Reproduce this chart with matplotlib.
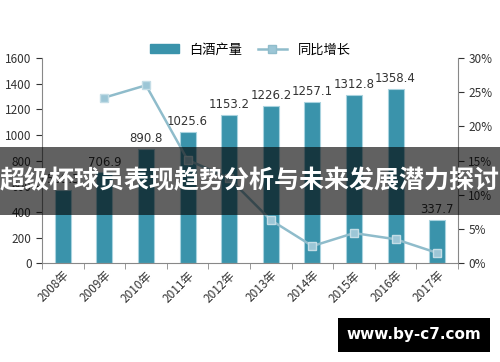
import matplotlib.pyplot as plt
import numpy as np
from matplotlib.patches import Rectangle

plt.rcParams['font.family'] = ['Noto Sans CJK SC', 'DejaVu Sans']

years = ["2008年", "2009年", "2010年", "2011年", "2012年",
         "2013年", "2014年", "2015年", "2016年", "2017年"]
output = [569.3, 706.9, 890.8, 1025.6, 1153.2, 1226.2, 1257.1, 1312.8, 1358.4, 337.7]
growth_years = [1, 2, 3, 4, 5, 6, 7, 8, 9]
growth = [24.2, 26.0, 15.1, 12.4, 6.3, 2.5, 4.4, 3.5, 1.5]

title = "超级杯球员表现趋势分析与未来发展潜力探讨"
site = "www.by-c7.com"

fig = plt.figure(figsize=(5, 3.62), dpi=100)
ax = fig.add_axes([0.084, 0.273, 0.832, 0.567])
x = np.arange(len(years))

bars = ax.bar(x, output, width=0.38, color="#3a93ab", edgecolor="#a9d3df",
              linewidth=0.8, zorder=2)
for xi, v in zip(x, output):
    ax.text(xi, v + 30, f"{v:.1f}", ha="center", va="bottom", fontsize=8.5,
            color="#333333", family="DejaVu Sans")

ax.set_xlim(-0.5, len(years) - 0.5)
ax.set_ylim(0, 1600)
ax.set_yticks(range(0, 1601, 200))
ax.set_xticks(x)
ax.set_xticklabels(years, rotation=45, ha="right", rotation_mode="anchor",
                   fontsize=8.5, color="#333333")
ax.set_xticks(np.arange(-0.5, len(years), 1), minor=True)
ax.tick_params(axis="x", which="major", length=0, pad=4)
ax.tick_params(axis="x", which="minor", length=4, color="#888888")
ax.tick_params(axis="y", labelsize=8.5, colors="#333333", length=4)
for s in ["top", "right"]:
    ax.spines[s].set_visible(False)
for s in ["left", "bottom"]:
    ax.spines[s].set_color("#888888")

ax2 = ax.twinx()
ax2.plot(growth_years, growth, color="#8fbccb", linewidth=1.8, marker="s",
         markersize=6, markerfacecolor="#9cc6d6", markeredgecolor="#c4dde6",
         zorder=3)
ax2.set_ylim(0, 30)
ax2.set_yticks(range(0, 31, 5))
ax2.set_yticklabels([f"{t}%" for t in range(0, 31, 5)])
ax2.tick_params(axis="y", labelsize=8.5, colors="#333333", length=4)
for s in ["top", "left", "bottom"]:
    ax2.spines[s].set_visible(False)
ax2.spines["right"].set_color("#888888")

h1 = Rectangle((0, 0), 1, 1, color="#3a93ab")
h2, = ax2.plot([], [], color="#8fbccb", linewidth=1.8, marker="s",
               markersize=6, markerfacecolor="#9cc6d6")
fig.legend([h1, h2], ["白酒产量", "同比增长"], loc="center",
           bbox_to_anchor=(0.5, 0.862), ncol=2, frameon=False, fontsize=9.5,
           handlelength=2.2, columnspacing=1.2)

# dark banner with title
fig.patches.append(Rectangle((0, 0.405), 1, 0.19, transform=fig.transFigure,
                             facecolor="black", alpha=0.62, zorder=10))
fig.text(0.5, 0.5, title, ha="center", va="center", color="white",
         fontsize=18, fontweight="bold", zorder=11)

# site badge
fig.patches.append(Rectangle((0.676, 0.028), 0.304, 0.094,
                             transform=fig.transFigure, facecolor="black",
                             zorder=10))
fig.text(0.828, 0.075, site, ha="center", va="center", color="white",
         fontsize=11, fontweight="bold", family="DejaVu Sans", zorder=11)

fig.savefig("out.png", dpi=100)
